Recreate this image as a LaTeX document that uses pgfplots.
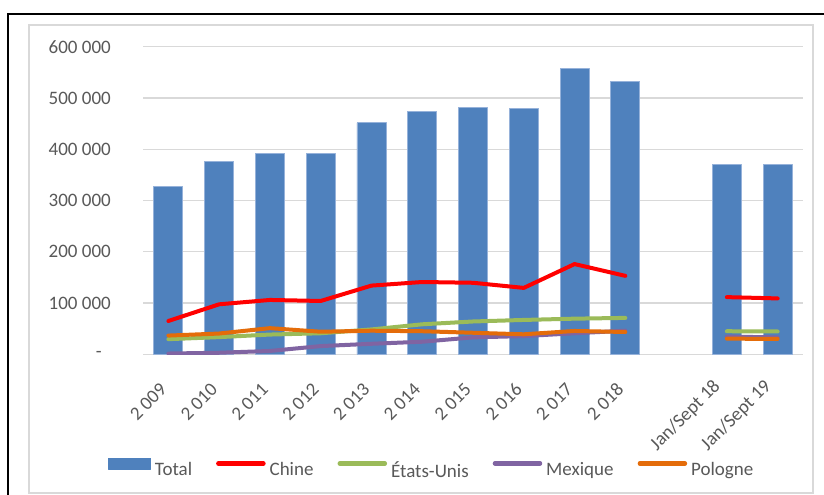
\documentclass[border=0pt]{standalone}
\usepackage{fontspec}
\setmainfont{Carlito}
\usepackage{pgfplots}
\pgfplotsset{compat=1.18}

\definecolor{totalblue}{RGB}{79,129,189}
\definecolor{baredge}{RGB}{150,178,218}
\definecolor{chine}{RGB}{255,0,0}
\definecolor{usa}{RGB}{155,187,89}
\definecolor{mexique}{RGB}{128,100,162}
\definecolor{pologne}{RGB}{228,108,10}
\definecolor{txt}{RGB}{89,89,89}
\definecolor{gridc}{RGB}{217,217,217}

\begin{document}
\begin{tikzpicture}[x=1bp,y=1bp]
\useasboundingbox (0,0) rectangle (824,495);
\fill[white] (0,0) rectangle (824,495);
% cadres
\draw[black, line width=2.2bp] (8,-2) -- (8,481) -- (826,481);
\draw[gridc, line width=1.5bp] (29,2) rectangle (813,470);

\begin{axis}[
  at={(143bp,140.7bp)}, anchor=south west,
  width=660bp, height=307.6bp, scale only axis,
  xmin=-0.5, xmax=12.5, ymin=0, ymax=600000,
  scaled y ticks=false,
  axis line style={draw=none},
  major tick length=0pt,
  ymajorgrids, grid style={gridc, line width=1.3bp},
  ytick={0,100000,200000,300000,400000,500000,600000},
  yticklabels={-\hspace*{9bp},100~000,200~000,300~000,400~000,500~000,600~000},
  xtick={0,1,2,3,4,5,6,7,8,9},
  xticklabels={2~009,2~010,2~011,2~012,2~013,2~014,2~015,2~016,2~017,2~018},
  extra x ticks={11,12},
  extra x tick labels={Jan/Sept 18,Jan/Sept 19},
  extra x tick style={xticklabel style={xshift=-1bp, yshift=5bp}},
  tick label style={font=\fontsize{19bp}{22bp}\selectfont, text=txt, inner sep=0pt},
  yticklabel style={anchor=east, xshift=-32bp},
  xticklabel style={xshift=-5bp, yshift=-32bp, rotate=45, anchor=east},
  unbounded coords=jump,
  legend columns=5,
  legend style={at={(0.436,-0.37)}, anchor=center, draw=none, fill=none,
    font=\fontsize{19bp}{22bp}\selectfont, text=txt,
    nodes={inner sep=0pt},
    /tikz/every odd column/.append style={column sep=4bp},
    /tikz/every even column/.append style={column sep=24bp}},
  every axis plot/.append style={line join=round, line cap=round},
]

\addplot[ybar, bar width=29bp, fill=totalblue, draw=baredge, line width=0.8bp,
  legend image code/.code={\fill[totalblue] (0bp,1bp) rectangle (42bp,12bp);}]
  coordinates {(0,327000) (1,377000) (2,392500) (3,391500) (4,451500) (5,474000)
    (6,481000) (7,480000) (8,557500) (9,532500) (11,370000) (12,370500)};
\addlegendentry{Total}

\addplot[chine, line width=4bp,
  legend image code/.code={\draw[chine, line width=4.5bp] (0bp,6.5bp) -- (45bp,6.5bp);}]
  coordinates {(0,65000) (1,97500) (2,106000) (3,104000) (4,134000) (5,141000)
    (6,139500) (7,129500) (8,176000) (9,153000) (10,nan) (11,111500) (12,109000)};
\addlegendentry{Chine}

\addplot[usa, line width=4bp,
  legend image code/.code={\draw[usa, line width=4.5bp] (0bp,6.5bp) -- (45bp,6.5bp);}]
  coordinates {(0,29500) (1,33500) (2,38500) (3,41000) (4,48500) (5,58500)
    (6,64000) (7,67000) (8,69500) (9,71000) (10,nan) (11,45000) (12,44500)};
\addlegendentry{États-Unis}

\addplot[mexique, line width=4bp,
  legend image code/.code={\draw[mexique, line width=4.5bp] (0bp,6.5bp) -- (45bp,6.5bp);}]
  coordinates {(0,1500) (1,3000) (2,6500) (3,16000) (4,20500) (5,24500)
    (6,33000) (7,35500) (8,41000) (9,46000) (10,nan) (11,34500) (12,33000)};
\addlegendentry{Mexique}

\addplot[pologne, line width=4bp,
  legend image code/.code={\draw[pologne, line width=4.5bp] (0bp,6.5bp) -- (45bp,6.5bp);}]
  coordinates {(0,36500) (1,40500) (2,51000) (3,44000) (4,46000) (5,45000)
    (6,42000) (7,39000) (8,45500) (9,43500) (10,nan) (11,30500) (12,30000)};
\addlegendentry{Pologne}

\end{axis}
\end{tikzpicture}
\end{document}
